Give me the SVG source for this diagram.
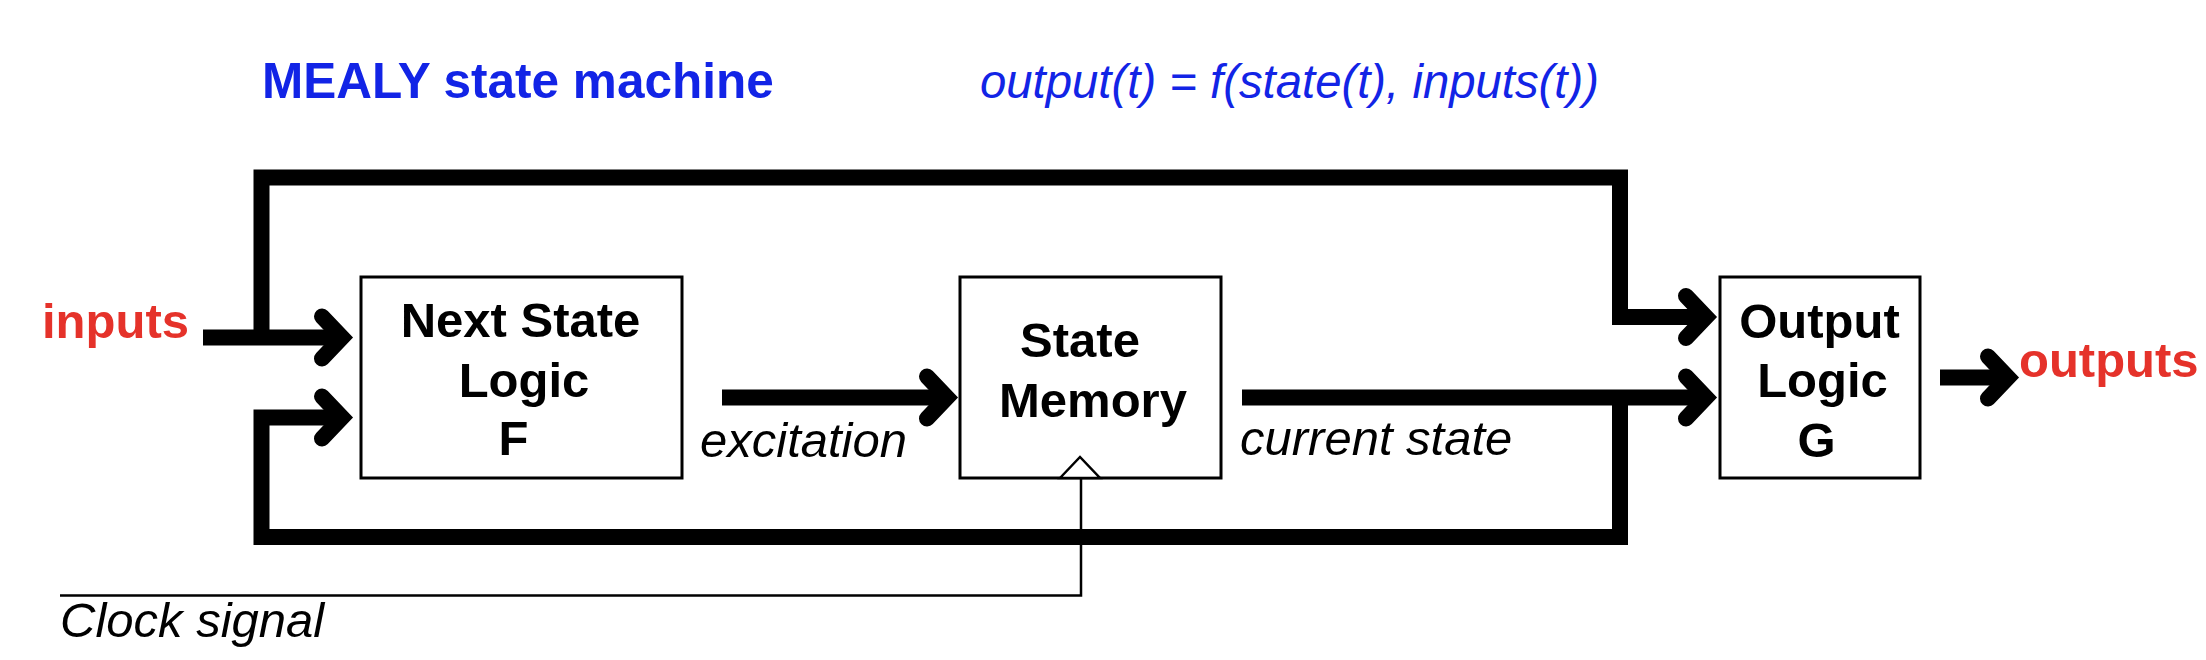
<svg xmlns="http://www.w3.org/2000/svg" width="2206" height="660" viewBox="0 0 2206 660">
<style>
.box{fill:#fff;stroke:#000;stroke-width:3}
.lbl{font-family:"Liberation Sans",Arial,sans-serif;font-weight:bold;font-size:49px;fill:#000;text-anchor:middle}
.ital{font-family:"Liberation Sans",Arial,sans-serif;font-style:italic;font-size:49px;fill:#000}
.red{font-family:"Liberation Sans",Arial,sans-serif;font-weight:bold;font-size:49px;fill:#e5322a}
.blue{font-family:"Liberation Sans",Arial,sans-serif;fill:#1224e6}
.wire{fill:none;stroke:#000;stroke-width:16;stroke-linejoin:miter;stroke-linecap:butt}
.thin{fill:none;stroke:#000;stroke-width:2.5}
</style>
<defs>
<marker id="chev" markerUnits="userSpaceOnUse" viewBox="-40 -35 60 70" refX="0" refY="0" markerWidth="60" markerHeight="70" orient="auto" overflow="visible">
<path d="M-20,-21 L0,0 L-20,21" fill="none" stroke="#000" stroke-width="16" stroke-linecap="round" stroke-linejoin="miter"/>
</marker>
</defs>
<rect width="2206" height="660" fill="#fff"/>
<g id="titles">
<text class="blue" x="262" y="98" font-size="49.5" font-weight="bold">MEALY state machine</text>
<text class="blue" x="980" y="98" font-size="47.3" font-style="italic">output(t) = f(state(t), inputs(t))</text>
</g>
<g id="connectors">
<path class="wire" d="M203,337.5 H342" stroke-linecap="round" marker-end="url(#chev)"/>
<path class="wire" d="M261.5,345 V177.5 H1620 V317 H1706" marker-end="url(#chev)"/>
<path class="wire" d="M722,397.5 H947" stroke-linecap="round" marker-end="url(#chev)"/>
<path class="wire" d="M1242,397.5 H1706" stroke-linecap="round" marker-end="url(#chev)"/>
<path class="wire" d="M1620,390 V537 H261.5 V417.5 H342" marker-end="url(#chev)"/>
<path class="wire" d="M1940,377.5 H2008" stroke-linecap="round" marker-end="url(#chev)"/>
<path class="thin" d="M60,595.5 H1081 V478"/>
</g>
<g id="next-state-logic">
<rect class="box" x="361" y="277" width="321" height="201"/>
<text class="lbl" x="520.5" y="337">Next State</text>
<text class="lbl" x="524" y="397">Logic</text>
<text class="lbl" x="513.5" y="455">F</text>
</g>
<g id="state-memory">
<rect class="box" x="960" y="277" width="261" height="201"/>
<text class="lbl" x="1080" y="357">State</text>
<text class="lbl" x="1093" y="417">Memory</text>
<polygon points="1060,478 1080,457 1100,478" fill="#fff" stroke="#000" stroke-width="2.5" stroke-linejoin="miter"/>
</g>
<g id="output-logic">
<rect class="box" x="1720" y="277" width="200" height="201"/>
<text class="lbl" x="1819.5" y="338">Output</text>
<text class="lbl" x="1822.5" y="397">Logic</text>
<text class="lbl" x="1816.5" y="457">G</text>
</g>
<g id="labels">
<text class="red" x="42" y="338">inputs</text>
<text class="red" x="2019" y="377">outputs</text>
<text class="ital" x="700" y="457">excitation</text>
<text class="ital" x="1240" y="455">current state</text>
<text class="ital" x="60" y="637">Clock signal</text>
</g>
</svg>
